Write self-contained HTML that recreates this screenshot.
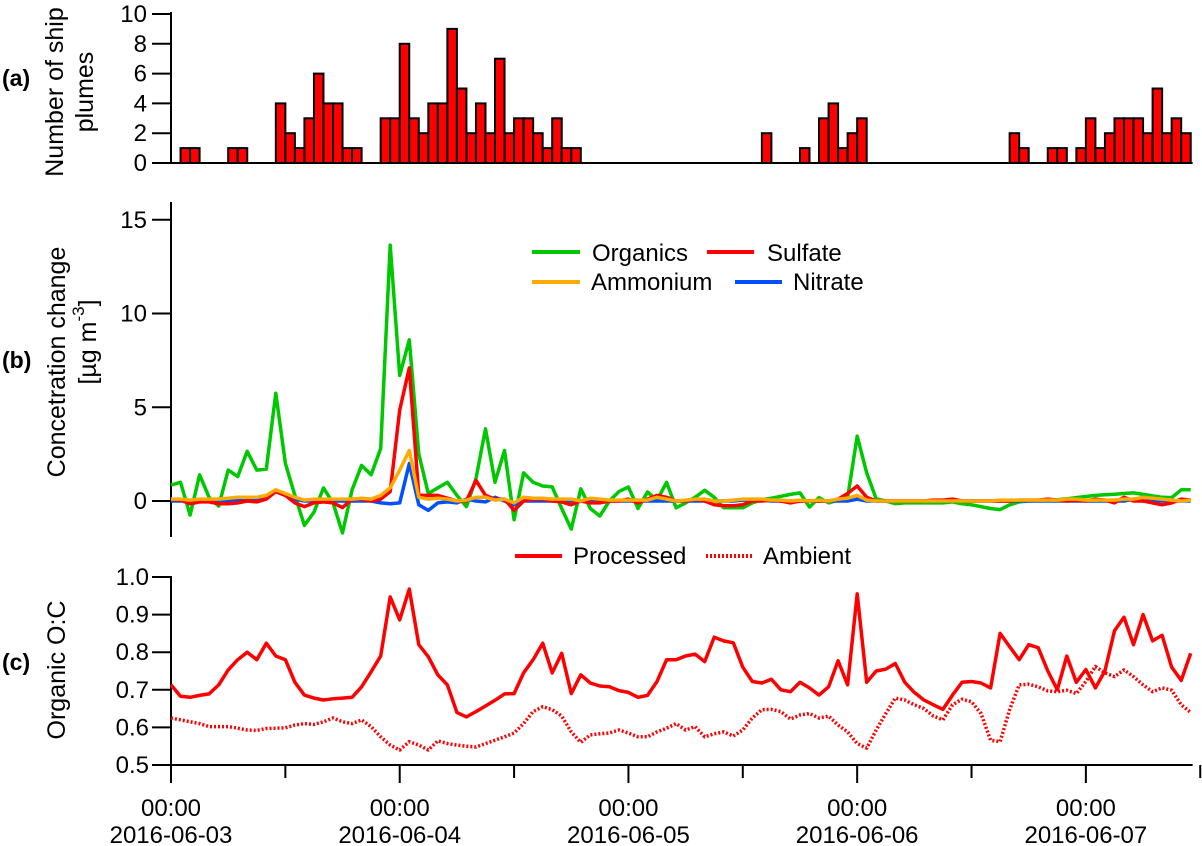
<!DOCTYPE html>
<html><head><meta charset="utf-8"><style>
html,body{margin:0;padding:0;background:#fff;}
body{position:relative;width:1202px;height:846px;overflow:hidden;}
svg{display:block;font-family:"Liberation Sans",Arial,sans-serif;}
</style></head><body>
<svg id="chart" width="1202" height="846" viewBox="0 0 1202 846">
<g id="axes"></g>
</svg>
<script>
// ---- data ----
const plumeCounts = [0,1,1,0,0,0,1,1,0,0,0,4,2,1,3,6,4,4,1,1,0,0,3,3,8,3,2,4,4,9,5,2,4,2,7,2,3,3,2,1,3,1,1,
 0,0,0,0,0,0,0,0,0,0,0,0,0,0,0,0,0,0,0,2,0,0,0,1,0,3,4,1,2,3,
 0,0,0,0,0,0,0,0,0,0,0,0,0,0,0,2,1,0,0,1,1,0,1,3,1,2,3,3,3,2,5,2,3,2];
const organics = [0.85,1.0,-0.75,1.4,0.2,-0.27,1.65,1.3,2.65,1.65,1.7,5.75,2.0,0.3,-1.3,-0.6,0.7,-0.1,-1.7,0.6,1.9,1.4,2.8,13.65,6.7,8.6,2.5,0.4,0.7,1.0,0.3,-0.3,1.2,3.85,1.0,2.7,-1.0,1.5,1.0,0.8,0.75,-0.4,-1.5,0.65,-0.4,-0.8,0.0,0.5,
 0.75,-0.4,0.48,0.04,1.0,-0.36,-0.1,0.2,0.57,0.2,-0.36,-0.36,-0.36,-0.1,0.07,0.15,0.25,0.35,0.43,-0.32,0.18,-0.1,0.05,0.18,3.46,1.5,0.12,0.0,-0.14,-0.1,-0.1,-0.1,-0.1,-0.1,-0.05,-0.15,-0.2,-0.3,-0.4,-0.46,-0.2,-0.05,0.0,0.03,0.05,0.07,0.12,0.18,0.24,0.3,0.33,0.36,0.4,0.43,0.35,0.27,0.2,0.18,0.6,0.6];
const sulfate = [0.1,0.05,-0.15,-0.05,-0.05,-0.15,-0.15,-0.1,0.0,-0.05,0.1,0.5,0.3,-0.1,-0.3,-0.1,-0.05,-0.1,-0.35,0.1,0.1,0.0,0.1,0.5,4.85,7.1,0.3,0.3,0.3,0.15,0.0,0.0,1.1,0.3,0.1,0.1,-0.5,0.0,0.1,0.1,0.0,-0.05,-0.2,0.0,-0.1,-0.1,0.0,0.0,
 0.1,-0.1,0.1,0.3,0.2,0.0,0.0,0.1,0.0,-0.2,-0.25,-0.25,-0.2,0.0,0.0,0.05,0.0,-0.1,0.0,0.0,0.0,0.0,0.1,0.4,0.8,0.2,0.0,0.0,0.0,0.0,0.0,0.0,0.05,0.05,0.1,0.0,0.0,0.0,0.0,0.0,0.0,0.05,0.05,0.05,0.1,0.05,0.0,0.05,0.0,0.1,0.05,-0.1,0.2,0.0,0.0,-0.1,-0.2,-0.1,0.1,0.05];
const ammonium = [0.1,0.1,0.05,0.1,0.1,0.1,0.15,0.2,0.2,0.2,0.3,0.6,0.4,0.2,0.05,0.1,0.1,0.1,0.1,0.1,0.15,0.1,0.3,0.7,1.65,2.7,0.2,0.1,0.15,0.1,0.0,0.05,0.2,0.2,0.05,0.1,-0.1,0.2,0.15,0.15,0.1,0.1,0.1,0.0,0.15,0.1,0.05,0.05,
 0.05,0.05,0.05,0.2,0.1,0.0,0.05,0.1,0.1,0.0,0.0,0.05,0.1,0.1,0.1,0.05,0.05,0.0,0.05,0.0,0.05,0.0,0.1,0.15,0.3,0.05,0.0,0.0,0.0,0.0,0.0,0.0,0.0,0.0,0.0,0.0,0.0,0.0,0.0,0.05,0.05,0.05,0.05,0.05,0.05,0.05,0.1,0.1,0.05,0.05,0.05,0.05,0.1,0.1,0.2,0.15,0.1,0.05,0.0,0.05];
const nitrate = [0,0,0,0,0,0,0,0.05,0.1,0.1,0.15,0.5,0.3,0.1,0,0,0,0,0,0,0,0,-0.1,-0.15,-0.1,2.0,-0.2,-0.5,-0.1,-0.05,-0.1,0.1,0.0,-0.05,0.2,0.0,-0.2,0,0,0,0,0,0,0,0,0,0,0,
 0,0,0,0,0,0,0,0,0,0,0,0,0.05,0.05,0.05,0,0,0,0,0,0,0,0,0,0.1,0,0,0,0,0,0,0,0,0,0,0,0,0,0,0,0,0,0,0,0,0,0,0,0,0,0,0,0,0.1,0,0,0,0,0,0];
const processedOC = [0.713,0.683,0.68,0.685,0.689,0.713,0.753,0.78,0.80,0.78,0.824,0.79,0.78,0.72,0.686,0.678,0.673,0.676,0.678,0.68,0.708,0.748,0.79,0.947,0.886,0.968,0.82,0.788,0.74,0.713,0.64,0.628,0.642,0.657,0.672,0.689,0.69,0.745,0.78,0.824,0.745,0.797,0.69,0.74,0.718,0.71,0.708,0.698,0.693,0.68,0.685,0.722,0.78,0.78,0.79,
 0.795,0.775,0.84,0.83,0.825,0.76,0.722,0.718,0.728,0.7,0.695,0.72,0.705,0.686,0.708,0.777,0.713,0.955,0.72,0.75,0.755,0.77,0.72,0.693,0.673,0.66,0.648,0.686,0.72,0.722,0.718,0.705,0.85,0.815,0.78,0.82,0.812,0.75,0.7,0.79,0.72,0.754,0.705,0.75,0.857,0.893,0.82,0.9,0.83,0.845,0.76,0.725,0.797];
const ambientOC = [0.625,0.62,0.615,0.61,0.602,0.602,0.602,0.598,0.593,0.592,0.597,0.598,0.599,0.606,0.61,0.608,0.615,0.625,0.615,0.61,0.62,0.602,0.575,0.553,0.54,0.562,0.553,0.54,0.564,0.557,0.553,0.55,0.548,0.557,0.566,0.575,0.585,0.61,0.642,0.655,0.647,0.63,0.588,0.56,0.58,0.583,0.585,0.593,0.585,0.575,0.575,0.588,0.598,0.61,0.593,
 0.602,0.575,0.583,0.588,0.577,0.593,0.625,0.647,0.648,0.642,0.622,0.633,0.637,0.625,0.63,0.606,0.588,0.557,0.545,0.593,0.637,0.678,0.673,0.66,0.65,0.63,0.62,0.66,0.675,0.668,0.637,0.566,0.562,0.647,0.713,0.715,0.708,0.697,0.695,0.699,0.69,0.722,0.762,0.745,0.735,0.753,0.735,0.713,0.695,0.705,0.699,0.66,0.64];
const ticksA = [0,2,4,6,8,10];
const ticksB = [0,5,10,15];
const ticksC = ["0.5","0.6","0.7","0.8","0.9","1.0"];
const dayLabels = ["2016-06-03","2016-06-04","2016-06-05","2016-06-06","2016-06-07"];

// ---- scales ----
const X0 = 171, HOURW = 9.53;
const x = h => X0 + h * HOURW;
const yA = v => 163 - v * 14.9;
const yB = v => 501 - v * 18.75;
const yC = v => 765 - (v - 0.5) * 376;
const FS = 24;

const NS = "http://www.w3.org/2000/svg";
const root = document.getElementById("axes");
function mk(tag, attrs, parent) {
  const e = document.createElementNS(NS, tag);
  for (const k in attrs) e.setAttribute(k, attrs[k]);
  (parent || root).appendChild(e);
  return e;
}
function txt(s, attrs, parent) { const t = mk("text", attrs, parent); t.textContent = s; return t; }
const xEnd = x(107.2);

// ---- panel a ----
const gA = mk("g", {});


plumeCounts.forEach((v, i) => {
  if (!v) return;
  const r = mk("rect", {x: x(i), y: yA(v), width: HOURW, height: yA(0) - yA(v), fill: "#ff0000", stroke: "#000", "stroke-width": 2}, gA);
  
  
});
mk("line", {x1: X0, y1: 12, x2: X0, y2: 164, stroke: "#000", "stroke-width": 2}, gA);
mk("line", {x1: X0, y1: 163, x2: xEnd, y2: 163, stroke: "#000", "stroke-width": 2}, gA);
ticksA.forEach(v => {
  mk("line", {x1: 152, y1: yA(v), x2: X0, y2: yA(v), stroke: "#000", "stroke-width": 2}, gA);
  const t = txt(String(v), {x: 147, y: yA(v) + 8, "font-size": FS, "text-anchor": "end"}, gA);
  
  
});

// ---- panel b ----
const gB = mk("g", {});


mk("line", {x1: X0, y1: 202, x2: X0, y2: 537, stroke: "#000", "stroke-width": 2}, gB);
ticksB.forEach(v => {
  mk("line", {x1: 152, y1: yB(v), x2: X0, y2: yB(v), stroke: "#000", "stroke-width": 2}, gB);
  const t = txt(String(v), {x: 147, y: yB(v) + 8, "font-size": FS, "text-anchor": "end"}, gB);
  
  
});
function line(arr, yf, color, parent, dash) {
  const d = arr.map((v, i) => (i ? "L" : "M") + x(i).toFixed(1) + "," + yf(v).toFixed(1)).join("");
  const a = {d: d, fill: "none", stroke: color, "stroke-width": 3.5, "stroke-linejoin": "round"};
  if (dash) a["stroke-dasharray"] = dash;
  return mk("path", a, parent);
}
const lg = line(organics, yB, "#00c800", gB);


const lnit = line(nitrate, yB, "#0050ff", gB);


const ls = line(sulfate, yB, "#ff0000", gB);


const lam = line(ammonium, yB, "#ffaa00", gB);



// ---- panel c ----
const gC = mk("g", {});


mk("line", {x1: X0, y1: 576, x2: X0, y2: 783, stroke: "#000", "stroke-width": 2}, gC);
mk("line", {x1: X0, y1: 765, x2: xEnd, y2: 765, stroke: "#000", "stroke-width": 2}, gC);
ticksC.forEach(s => {
  const v = parseFloat(s);
  mk("line", {x1: 152, y1: yC(v), x2: X0, y2: yC(v), stroke: "#000", "stroke-width": 2}, gC);
  const t = txt(s, {x: 149, y: yC(v) + 8, "font-size": FS, "text-anchor": "end"}, gC);
  
  
});
dayLabels.forEach((s, i) => {
  const hx = x(i * 24);
  mk("line", {x1: hx, y1: 765, x2: hx, y2: 783, stroke: "#000", "stroke-width": 2}, gC);
  mk("line", {x1: x(i * 24 + 12), y1: 765, x2: x(i * 24 + 12), y2: 778, stroke: "#000", "stroke-width": 2}, gC);
  const t1 = txt("00:00", {x: hx, y: 816, "font-size": FS, "text-anchor": "middle"}, gC);
  
  
  const t2 = txt(s, {x: hx, y: 843, "font-size": FS, "text-anchor": "middle"}, gC);
  
  
});
const la = line(ambientOC, yC, "#ff0000", gC, "2 2");


const lp = line(processedOC, yC, "#ff0000", gC);


</script>

<!-- static labels -->
<svg width="1202" height="846" viewBox="0 0 1202 846" style="position:absolute;left:0;top:0;font-family:'Liberation Sans',Arial,sans-serif;">
  <text x="2" y="86" font-size="23" font-weight="bold">(a)</text>
  <text x="2" y="368" font-size="23" font-weight="bold">(b)</text>
  <text x="2" y="670" font-size="23" font-weight="bold">(c)</text>
  <g>
    <text transform="translate(63,92) rotate(-90)" font-size="25" text-anchor="middle">Number of ship</text>
    <text transform="translate(93,92) rotate(-90)" font-size="25" text-anchor="middle">plumes</text>
  </g>
  <g>
    <text transform="translate(65,362) rotate(-90)" font-size="25" text-anchor="middle">Concetration change</text>
    <text transform="translate(96,342) rotate(-90)" font-size="25" text-anchor="middle">[µg m<tspan dy="-12" font-size="17">-3</tspan><tspan dy="12">]</tspan></text>
  </g>
  <text transform="translate(65,670) rotate(-90)" font-size="25" text-anchor="middle">Organic O:C</text>

  <g>
    <g>
      <line x1="532" y1="252" x2="580" y2="252" stroke="#00c800" stroke-width="4"/>
      <text x="592" y="261" font-size="24">Organics</text>
    </g>
    <g>
      <line x1="707" y1="252" x2="754" y2="252" stroke="#ff0000" stroke-width="4"/>
      <text x="767" y="261" font-size="24">Sulfate</text>
    </g>
    <g>
      <line x1="532" y1="282" x2="580" y2="282" stroke="#ffaa00" stroke-width="4"/>
      <text x="591" y="290" font-size="24">Ammonium</text>
    </g>
    <g>
      <line x1="735" y1="282" x2="782" y2="282" stroke="#0050ff" stroke-width="4"/>
      <text x="793" y="290" font-size="24">Nitrate</text>
    </g>
  </g>
  <g>
    <g>
      <line x1="515" y1="556" x2="562" y2="556" stroke="#ff0000" stroke-width="4"/>
      <text x="573" y="564" font-size="24">Processed</text>
    </g>
    <g>
      <line x1="706" y1="556" x2="752" y2="556" stroke="#ff0000" stroke-width="4" stroke-dasharray="2 2"/>
      <text x="763" y="564" font-size="24">Ambient</text>
    </g>
  </g>
</svg>
</body></html>
